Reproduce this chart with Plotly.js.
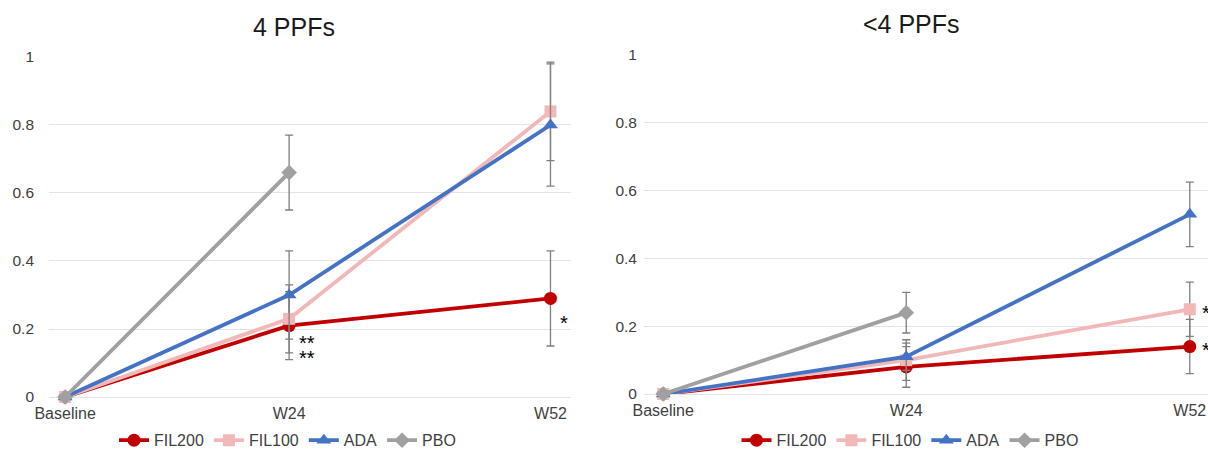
<!DOCTYPE html>
<html><head><meta charset="utf-8">
<script src="https://cdn.plot.ly/plotly-3.0.1.min.js"></script>
<style>html,body{margin:0;padding:0;background:#fff}#c{width:1208px;height:453px}</style>
</head><body><div id="c"></div>
<script>
// x positions in weeks
const weeksAll = [0, 24, 52];
const weeksPBO = [0, 24];
const tickLabels = ['Baseline', 'W24', 'W52'];
const seriesNames = ['FIL200', 'FIL100', 'ADA', 'PBO'];

// Panel 1: 4 PPFs
const p1_FIL200 = [0, 0.21, 0.29];
const p1_FIL200_err = [null, 0.10, 0.14];
const p1_FIL100 = [0, 0.23, 0.84];
const p1_FIL100_err = [null, 0.10, 0.145];
const p1_ADA = [0, 0.30, 0.80];
const p1_ADA_err = [null, 0.13, 0.18];
const p1_PBO = [0, 0.66];
const p1_PBO_err = [null, 0.11];

// Panel 2: <4 PPFs
const p2_FIL200 = [0, 0.08, 0.14];
const p2_FIL200_err = [null, 0.06, 0.08];
const p2_FIL100 = [0, 0.10, 0.25];
const p2_FIL100_err = [null, 0.06, 0.08];
const p2_ADA = [0, 0.11, 0.53];
const p2_ADA_err = [null, 0.04, 0.095];
const p2_PBO = [0, 0.24];
const p2_PBO_err = [null, 0.06];

const titles = ['4 PPFs', '<4 PPFs'];

const colors = {FIL200: '#C00000', FIL100: '#F2B8B8', ADA: '#4472C4', PBO: '#A0A0A0'};
const symbols = {FIL200: 'circle', FIL100: 'square', ADA: 'triangle-up', PBO: 'diamond'};
const msize = {FIL200: 13, FIL100: 12, ADA: 13, PBO: 12};

function tr(name, x, y, err, xa, ya, leg) {
  return {
    type: 'scatter', mode: 'lines+markers', name: name, x: x, y: y,
    xaxis: xa, yaxis: ya, legend: leg, cliponaxis: false,
    line: {color: colors[name], width: 3.8},
    marker: {color: colors[name], symbol: symbols[name], size: msize[name]},
    error_y: {type: 'data', array: err, visible: true, color: '#7F7F7F', thickness: 1.3, width: 4}
  };
}

const data = [
  tr('FIL200', weeksAll, p1_FIL200, p1_FIL200_err, 'x', 'y', 'legend'),
  tr('FIL100', weeksAll, p1_FIL100, p1_FIL100_err, 'x', 'y', 'legend'),
  tr('ADA', weeksAll, p1_ADA, p1_ADA_err, 'x', 'y', 'legend'),
  tr('PBO', weeksPBO, p1_PBO, p1_PBO_err, 'x', 'y', 'legend'),
  tr('FIL200', weeksAll, p2_FIL200, p2_FIL200_err, 'x2', 'y2', 'legend2'),
  tr('FIL100', weeksAll, p2_FIL100, p2_FIL100_err, 'x2', 'y2', 'legend2'),
  tr('ADA', weeksAll, p2_ADA, p2_ADA_err, 'x2', 'y2', 'legend2'),
  tr('PBO', weeksPBO, p2_PBO, p2_PBO_err, 'x2', 'y2', 'legend2')
];

const fontFam = 'Liberation Sans, Arial, sans-serif';
const yTicks = [0, 0.2, 0.4, 0.6, 0.8, 1];
const yTickText = ['0', '0.2', '0.4', '0.6', '0.8', '1'];

function xax(domain, range, anchor) {
  return {domain: domain, range: range, tickvals: weeksAll, ticktext: tickLabels, anchor: anchor,
    showgrid: false, zeroline: false, showline: false, ticks: '', ticklabelstandoff: 5,
    tickfont: {family: fontFam, size: 16, color: '#404040'}, fixedrange: true, automargin: false};
}
function yax(domain, standoff, anchor) {
  return {domain: domain, range: [0, 1], tickvals: yTicks, ticktext: yTickText,
    showgrid: true, gridcolor: '#E4E4E4', gridwidth: 1, zeroline: true, zerolinecolor: '#E4E4E4', zerolinewidth: 1,
    showline: false, ticks: '', ticklabelstandoff: standoff, anchor: anchor, automargin: false,
    tickfont: {family: fontFam, size: 15.5, color: '#404040'}, fixedrange: true};
}

// significance markers next to points
const sigX = [24, 24, 52, 52, 52];
const sigY = [p1_FIL200[1], p1_FIL200[1], p1_FIL200[2], p2_FIL100[2], p2_FIL200[2]];
const sigText = ['**', '**', '*', '*', '*'];
const sigAxis = ['', '', '', '2', '2'];
const sigShift = [[18, -17], [18, -32], [14, -25], [16, -4], [16, -3]];

const annotations = [];
for (let i = 0; i < sigX.length; i++) {
  annotations.push({x: sigX[i], y: sigY[i], xref: 'x' + sigAxis[i], yref: 'y' + sigAxis[i],
    text: sigText[i], showarrow: false, xshift: sigShift[i][0], yshift: sigShift[i][1],
    xanchor: 'center', yanchor: 'middle',
    font: {family: fontFam, size: 20, color: '#000'}});
}
annotations.push({x: 0.2434, y: 0.94, xref: 'paper', yref: 'paper', text: titles[0], showarrow: false,
  xanchor: 'center', yanchor: 'middle', font: {family: fontFam, size: 25, color: '#1a1a1a'}});
annotations.push({x: 0.7545, y: 0.947, xref: 'paper', yref: 'paper', text: titles[1], showarrow: false,
  xanchor: 'center', yanchor: 'middle', font: {family: fontFam, size: 25, color: '#1a1a1a'}});

const legendBase = {orientation: 'h', xanchor: 'center', yanchor: 'middle', y: 0.028,
  font: {family: fontFam, size: 16, color: '#404040'}, itemwidth: 30, bgcolor: 'rgba(0,0,0,0)', tracegroupgap: 0};

const layout = {
  width: 1208, height: 453,
  margin: {l: 0, r: 0, t: 0, b: 0, pad: 0, autoexpand: false},
  paper_bgcolor: '#fff', plot_bgcolor: '#fff',
  showlegend: true,
  xaxis: xax([0.0406, 0.4727], [-1.72, 54.2], 'y'),
  yaxis: yax([0.1236, 0.8742], 14, 'x'),
  xaxis2: xax([0.5331, 1.0], [-1.9, 53.8], 'y2'),
  yaxis2: yax([0.1302, 0.8786], 6, 'x2'),
  legend: Object.assign({}, legendBase, {x: 0.238}),
  legend2: Object.assign({}, legendBase, {x: 0.7533}),
  annotations: annotations
};

Plotly.newPlot('c', data, layout, {displayModeBar: false, staticPlot: true});
</script></body></html>
